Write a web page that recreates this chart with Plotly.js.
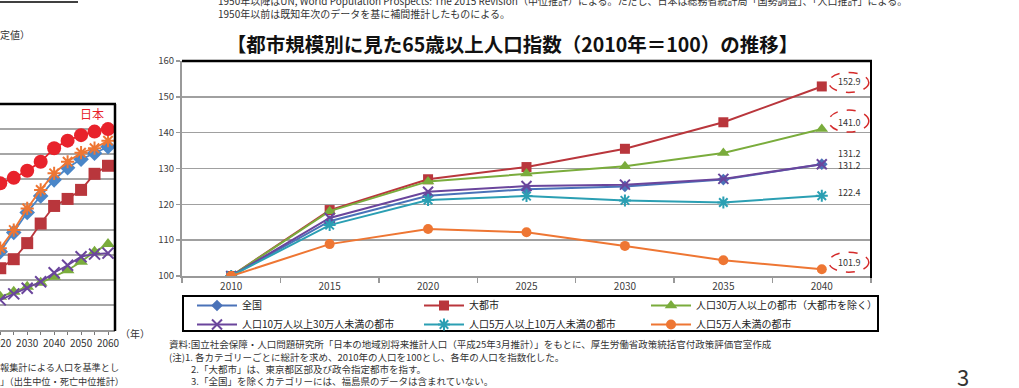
<!DOCTYPE html>
<html>
<head>
<meta charset="utf-8">
<script src="https://cdn.plot.ly/plotly-3.0.1.min.js"></script>
<style>html,body{margin:0;padding:0;background:#fff;}#chart{width:1019px;height:388px;}</style>
</head>
<body>
<div id="chart"></div>
<script>
// ---- main chart data ----
const years = [2010, 2015, 2020, 2025, 2030, 2035, 2040];
const seriesNames = ['全国','大都市','人口30万人以上の都市（大都市を除く）','人口10万人以上30万人未満の都市','人口5万人以上10万人未満の都市','人口5万人未満の都市'];
const zenkoku   = [100, 115.3, 122.4, 124.2, 125.0, 126.9, 131.2];
const daitoshi  = [100, 118.4, 127.0, 130.4, 135.5, 142.9, 152.9];
const over30man = [100, 118.1, 126.4, 128.6, 130.6, 134.3, 141.0];
const from10to30man = [100, 116.2, 123.5, 125.1, 125.5, 127.1, 131.2];
const from5to10man  = [100, 114.2, 121.2, 122.3, 121.1, 120.5, 122.4];
const under5man     = [100, 108.9, 113.1, 112.2, 108.4, 104.4, 101.9];
const yTicks = [100, 110, 120, 130, 140, 150, 160];
const chartTitle = '【都市規模別に見た65歳以上人口指数（2010年＝100）の推移】';

// ---- partial left chart (aging rate, %) ----
const leftYears = [2020, 2025, 2030, 2035, 2040, 2045, 2050, 2055, 2060];
const leftJapan  = [29.2, 30.3, 31.7, 33.5, 36.2, 37.7, 38.8, 39.5, 40.0];
const leftOrange = [16.3, 19.9, 24.2, 27.9, 31.2, 33.5, 35.3, 36.2, 37.7];
const leftBlue   = [15.6, 19.4, 23.4, 26.7, 29.9, 32.3, 34.0, 35.2, 36.5];
const leftRed    = [12.3, 14.1, 17.3, 21.2, 24.7, 26.1, 27.9, 31.1, 32.7];
const leftGreen  = [6.6, 7.6, 8.6, 9.4, 10.6, 11.9, 13.6, 15.6, 17.1];
const leftPurple = [6.0, 7.2, 8.3, 9.6, 11.4, 12.9, 14.6, 15.1, 15.3];

const W = 1019, H = 388, PW = 880;     // PW: plot-area width (right margin keeps legend wrapping at 3 per row)
const px = x => x / PW;
const py = y => 1 - y / H;
const FONT = '"Noto Sans CJK JP", "Noto Sans", sans-serif';

const mainData = [zenkoku, daitoshi, over30man, from10to30man, from5to10man, under5man];
const colors = ['#4a72b8', '#b9363c', '#7aac3c', '#6a459c', '#2b9fb3', '#ee7633'];
const markers = [
  {symbol: 'diamond', size: 9},
  {symbol: 'square', size: 10},
  {symbol: 'triangle-up', size: 11},
  {symbol: 'x-thin-open', size: 10, line: {width: 2}},
  {symbol: 'asterisk-open', size: 10, line: {width: 2}},
  {symbol: 'circle', size: 10}
];

const traces = mainData.map((vals, i) => {
  const m = Object.assign({color: colors[i]}, markers[i]);
  if (m.line) m.line.color = colors[i];
  return {
    type: 'scatter', mode: 'lines+markers', name: seriesNames[i],
    x: years, y: vals, xaxis: 'x', yaxis: 'y',
    line: {color: colors[i], width: 2}, marker: m
  };
});

const leftSets = [
  {y: leftGreen, c: '#7aac3c', m: {symbol: 'triangle-up', size: 12}},
  {y: leftPurple, c: '#6a459c', m: {symbol: 'x-thin-open', size: 11, line: {width: 2}}},
  {y: leftRed, c: '#b9363c', m: {symbol: 'square', size: 12}},
  {y: leftBlue, c: '#4a86c8', m: {symbol: 'diamond', size: 12}},
  {y: leftOrange, c: '#ee7633', m: {symbol: 'asterisk-open', size: 11, line: {width: 2}}},
  {y: leftJapan, c: '#e8222b', m: {symbol: 'circle', size: 14}}
];
leftSets.forEach(s => {
  const m = Object.assign({color: s.c}, s.m);
  if (m.line) m.line.color = s.c;
  traces.push({
    type: 'scatter', mode: 'lines+markers', x: leftYears, y: s.y,
    xaxis: 'x2', yaxis: 'y2', showlegend: false, hoverinfo: 'skip',
    line: {color: s.c, width: 1.8}, marker: m
  });
});

// value labels at 2040
const last = years.length - 1;
const labelSpec = [
  {series: 1, yshift: 5, ellipse: [-6, 14]},
  {series: 2, yshift: 7, ellipse: [-3, 19]},
  {series: 0, yshift: 11},
  {series: 3, yshift: -1},
  {series: 4, yshift: 3},
  {series: 5, yshift: 7, ellipse: [-3, 17]}
];
const annotations = [];
const shapes = [];
labelSpec.forEach(l => {
  const v = mainData[l.series][last];
  annotations.push({
    xref: 'x', yref: 'y', x: years[last], y: v, text: v.toFixed(1),
    showarrow: false, xshift: 27, yshift: l.yshift,
    font: {family: FONT, size: 9, color: '#333'}
  });
  if (l.ellipse) {
    shapes.push({
      type: 'circle', xref: 'x', yref: 'y',
      xsizemode: 'pixel', xanchor: years[last], x0: 7, x1: 47,
      ysizemode: 'pixel', yanchor: v, y0: l.ellipse[0], y1: l.ellipse[1],
      line: {color: '#d42a2a', width: 1.5, dash: 'dash'}
    });
  }
});

// frame lines of main chart (top and right), legend box, and left chart frame
shapes.push({type: 'line', xref: 'paper', yref: 'paper', x0: px(182), x1: px(872), y0: py(61), y1: py(61), line: {color: '#000', width: 2.5}});
shapes.push({type: 'line', xref: 'paper', yref: 'paper', x0: px(871), x1: px(871), y0: py(61), y1: py(278), line: {color: '#000', width: 2}});
shapes.push({type: 'rect', xref: 'paper', yref: 'paper', x0: px(183), x1: px(878), y0: py(331), y1: py(296), line: {color: '#000', width: 2}});
shapes.push({type: 'line', xref: 'paper', yref: 'paper', x0: 0, x1: px(116), y0: py(104), y1: py(104), line: {color: '#000', width: 2.5}});
shapes.push({type: 'line', xref: 'paper', yref: 'paper', x0: px(115), x1: px(115), y0: py(104), y1: py(331), line: {color: '#000', width: 2.5}});
shapes.push({type: 'line', xref: 'paper', yref: 'paper', x0: 0, x1: px(78), y0: py(2), y1: py(2), line: {color: '#000', width: 1.5}});

const textAnn = (x, y, text, size, color, opts) => Object.assign({
  xref: 'paper', yref: 'paper', x: px(x), y: py(y), text: text, showarrow: false,
  xanchor: 'left', yanchor: 'middle', font: {family: FONT, size: size, color: color || '#333'}
}, opts || {});

annotations.push(textAnn(216, 1, '1950年以降はUN, World Population Prospects: The 2015 Revision（中位推計）による。ただし、日本は総務省統計局「国勢調査」、「人口推計」による。', 10));
annotations.push(textAnn(216, 14, '1950年以前は既知年次のデータを基に補間推計したものによる。', 10));
annotations.push(textAnn(-2, 34, '定値）', 10));
annotations.push(textAnn(78, 113, '日本', 12, '#e8222b'));
annotations.push(textAnn(118, 333, '（年）', 10));
annotations.push(textAnn(-2, 367, '報集計による人口を基準とし', 9.2));
annotations.push(textAnn(-2, 381, '」（出生中位・死亡中位推計）', 9.2));
annotations.push(textAnn(167, 344, '資料:国立社会保障・人口問題研究所「日本の地域別将来推計人口（平成25年3月推計）」をもとに、厚生労働省政策統括官付政策評価官室作成', 9.5));
annotations.push(textAnn(167, 356.5, '(注)1. 各カテゴリーごとに総計を求め、2010年の人口を100とし、各年の人口を指数化した。', 9.5));
annotations.push(textAnn(189, 369, '2.「大都市」は、東京都区部及び政令指定都市を指す。', 9.5));
annotations.push(textAnn(189, 381, '3.「全国」を除くカテゴリーには、福島県のデータは含まれていない。', 9.5));
annotations.push(textAnn(963, 376, '3', 22, '#333', {xanchor: 'center'}));

const layout = {
  width: W, height: H,
  margin: {l: 0, r: W - PW, t: 0, b: 0, autoexpand: false},
  paper_bgcolor: '#fff', plot_bgcolor: 'rgba(0,0,0,0)',
  font: {family: FONT, size: 10, color: '#404040'},
  title: {text: '<b>' + chartTitle + '</b>', xref: 'container', x: 512.5 / W, xanchor: 'center',
          yref: 'container', y: py(45), yanchor: 'middle',
          font: {family: FONT, size: 19.5, color: '#111'}},
  xaxis: {
    domain: [px(182), px(871)], range: [2007.5, 2042.5], anchor: 'y',
    tickmode: 'array', tickvals: years, ticks: '',
    minor: {tick0: 2007.5, dtick: 5, ticks: 'outside', ticklen: 5, tickwidth: 1.5, tickcolor: '#999', showgrid: false},
    showline: true, linecolor: '#999', linewidth: 2, showgrid: false, zeroline: false,
    tickfont: {family: FONT, size: 10, color: '#404040'}, fixedrange: true
  },
  yaxis: {
    domain: [py(276), py(61)], range: [100, 160], tickvals: yTicks, anchor: 'x',
    ticks: 'outside', ticklen: 4, tickwidth: 1.5, tickcolor: '#999',
    showline: true, linecolor: '#999', linewidth: 2,
    showgrid: true, gridcolor: '#a0a0a0', gridwidth: 1.5, zeroline: false,
    tickfont: {family: FONT, size: 9.5, color: '#404040'}, fixedrange: true
  },
  xaxis2: {
    domain: [0, px(115)], range: [2019.9, 2062.6], anchor: 'y2',
    dtick: 10, tick0: 2020, tickangle: 0, ticks: 'outside', ticklen: 3, tickcolor: '#777',
    ticklabeloverflow: 'allow',
    minor: {dtick: 5, ticks: 'outside', ticklen: 3, tickcolor: '#777'},
    showline: true, linecolor: '#999', linewidth: 2, showgrid: false, zeroline: false,
    tickfont: {family: FONT, size: 10, color: '#333'}
  },
  yaxis2: {
    domain: [py(330), py(104)], range: [0, 45], dtick: 5, anchor: 'x2',
    showticklabels: false, ticks: '', showline: false,
    showgrid: true, gridcolor: '#a6a6a6', gridwidth: 2, zeroline: false
  },
  showlegend: true,
  legend: {
    orientation: 'h', x: px(192), y: py(291), xanchor: 'left', yanchor: 'top',
    borderwidth: 0, bgcolor: 'rgba(0,0,0,0)',
    entrywidth: 172, entrywidthmode: 'pixels', itemwidth: 40,
    font: {family: FONT, size: 10, color: '#222'}, traceorder: 'normal', tracegroupgap: 0
  },
  annotations: annotations,
  shapes: shapes
};

Plotly.newPlot('chart', traces, layout, {displayModeBar: false, staticPlot: true});
</script>
</body>
</html>
